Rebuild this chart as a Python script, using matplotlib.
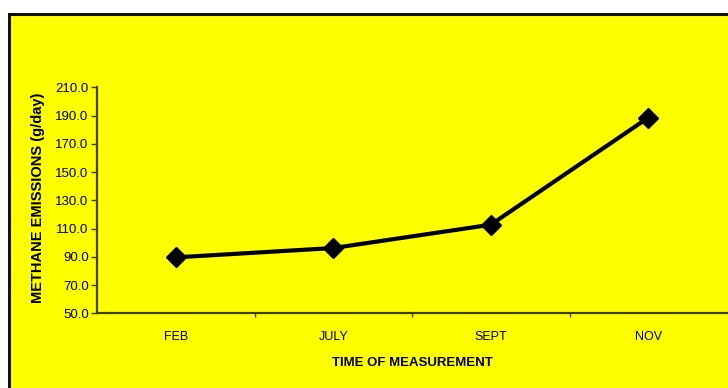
import matplotlib
matplotlib.use("Agg")
import matplotlib.pyplot as plt
from matplotlib.patches import Rectangle

plt.rcParams['font.family'] = ['Liberation Sans', 'DejaVu Sans']

months = ["FEB", "JULY", "SEPT", "NOV"]
methane = [89.6, 96.2, 112.7, 188.5]
y_ticks = [50, 70, 90, 110, 130, 150, 170, 190, 210]

W, H = 728, 388
fig = plt.figure(figsize=(W / 100, H / 100), dpi=100)
fig.patch.set_facecolor("white")

# yellow chart area with black frame (right and bottom run off the canvas)
fig.patches.append(Rectangle((9 / W, -0.05), 1.1, 1.05 - 14 / H,
                             transform=fig.transFigure, facecolor="#ffff00",
                             edgecolor="#111111", linewidth=2.2, zorder=-10))

left, right = 97 / W, 727 / W
bottom, top = 1 - 313.3 / H, 1 - 87.3 / H
ax = fig.add_axes([left, bottom, right - left, top - bottom])
ax.set_facecolor("none")

x = list(range(len(months)))
ax.plot(x, methane, color="black", linewidth=3.0, marker="D", markersize=10,
        markerfacecolor="black", markeredgecolor="black", zorder=3)

ax.set_xlim(-0.5, len(months) - 0.5)
ax.set_ylim(50, 210)
ax.set_yticks(y_ticks)
ax.set_yticklabels([f"{v:.1f}" for v in y_ticks])

ax.set_xticks(x)
ax.set_xticklabels(months)
ax.set_xticks([i + 0.5 for i in range(len(months) - 1)], minor=True)
ax.tick_params(axis="x", which="major", length=0, pad=13, labelsize=9)
ax.tick_params(axis="x", which="minor", length=3, direction="out",
               color="#404000", width=1)
ax.tick_params(axis="y", length=4, direction="out", color="#404000",
               width=1, pad=2, labelsize=9.5)

for s in ("top", "right"):
    ax.spines[s].set_visible(False)
for s in ("left", "bottom"):
    ax.spines[s].set_color("#404000")
    ax.spines[s].set_linewidth(1.6)

ax.set_xlabel("TIME OF MEASUREMENT", fontsize=9.5, fontweight="bold",
              va="center")
ax.xaxis.set_label_coords(0.5008, -0.22)
ax.set_ylabel("METHANE EMISSIONS (g/day)", fontsize=10.5, fontweight="bold",
              va="center")
ax.yaxis.set_label_coords(-0.093, 0.512)

fig.savefig("out.png", dpi=100, facecolor=fig.get_facecolor())
